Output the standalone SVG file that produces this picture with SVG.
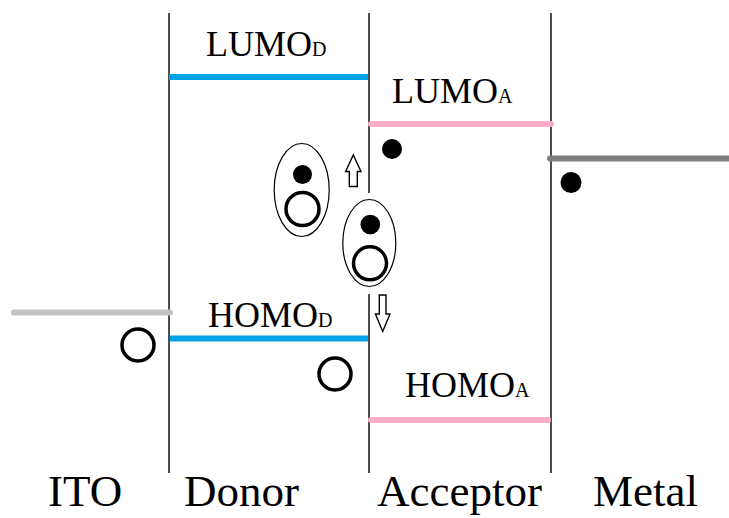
<svg xmlns="http://www.w3.org/2000/svg" width="729" height="518" viewBox="0 0 729 518">
  <style>
    .bg { fill: #ffffff; }
    .wall { stroke: #000000; stroke-width: 1.4; fill: none; }
    .level { fill: none; stroke-width: 6; }
    .blue { stroke: #00a2e8; }
    .pink { stroke: #ffaec9; stroke-linecap: round; }
    .ito { stroke: #c3c3c3; stroke-linecap: round; }
    .metal { stroke: #7f7f7f; stroke-linecap: round; }
    .lbl { font-family: "Liberation Serif", "Times New Roman", serif; font-size: 36px; fill: #000000; }
    .sub { font-size: 20px; }
    .layer { font-family: "Liberation Serif", "Times New Roman", serif; font-size: 45px; fill: #000000; }
    .hole { fill: #ffffff; stroke: #000000; stroke-width: 3.5; }
    .electron { fill: #000000; }
    .exciton { fill: none; stroke: #000000; stroke-width: 1.2; }
    .arrow { fill: #ffffff; stroke: #000000; stroke-width: 1.4; stroke-linejoin: miter; }
  </style>

  <rect class="bg" x="0" y="0" width="729" height="518"/>

  <!-- layer boundaries -->
  <g id="boundaries">
    <line class="wall" x1="169" y1="13" x2="169" y2="473"/>
    <line class="wall" x1="369" y1="13" x2="369" y2="193"/>
    <line class="wall" x1="369" y1="294" x2="369" y2="473"/>
    <line class="wall" x1="551" y1="13" x2="551" y2="473"/>
  </g>

  <!-- energy levels -->
  <g id="ito-level">
    <line class="level ito" x1="14" y1="312.5" x2="170" y2="312.5"/>
  </g>
  <g id="lumo-d">
    <line class="level blue" x1="169" y1="77" x2="368" y2="77"/>
    <text class="lbl" x="206" y="56">LUMO<tspan class="sub">D</tspan></text>
  </g>
  <g id="homo-d">
    <line class="level blue" x1="170" y1="338.5" x2="368" y2="338.5"/>
    <text class="lbl" x="208" y="327">HOMO<tspan class="sub">D</tspan></text>
  </g>
  <g id="lumo-a">
    <line class="level pink" x1="371" y1="124" x2="551" y2="124"/>
    <text class="lbl" x="392" y="103">LUMO<tspan class="sub">A</tspan></text>
  </g>
  <g id="homo-a">
    <line class="level pink" x1="371" y1="420" x2="548" y2="420"/>
    <text class="lbl" x="405" y="397">HOMO<tspan class="sub">A</tspan></text>
  </g>
  <g id="metal-level">
    <line class="level metal" x1="550" y1="158.5" x2="729" y2="158.5"/>
  </g>

  <!-- charge carriers -->
  <g id="carriers">
    <circle class="hole" cx="138" cy="345" r="16"/>
    <circle class="hole" cx="335" cy="374" r="16"/>
    <circle class="electron" cx="392" cy="149" r="10"/>
    <circle class="electron" cx="571" cy="182.5" r="10.5"/>
  </g>

  <!-- bound electron-hole pairs -->
  <g id="exciton-1">
    <ellipse class="exciton" cx="301.7" cy="190" rx="27.5" ry="46.5"/>
    <circle class="electron" cx="302.5" cy="174.5" r="9.5"/>
    <circle class="hole" cx="302.5" cy="209" r="16.5"/>
  </g>
  <g id="exciton-2">
    <ellipse class="exciton" cx="369.3" cy="243" rx="26.5" ry="43.5"/>
    <circle class="electron" cx="370.3" cy="224.5" r="9.8"/>
    <circle class="hole" cx="370" cy="263.3" r="16.5"/>
  </g>

  <!-- transfer arrows -->
  <g id="connectors">
    <polygon class="arrow" points="353.3,155 361,171.5 357.3,171.5 357.3,186.5 349.3,186.5 349.3,171.5 345.6,171.5"/>
    <polygon class="arrow" points="379.3,295 386,295 386,314 390,314 382.7,331.5 375.4,314 379.3,314"/>
  </g>

  <!-- layer names -->
  <g id="layer-names">
    <text class="layer" x="48" y="506">ITO</text>
    <text class="layer" x="184" y="506">Donor</text>
    <text class="layer" x="377" y="506">Acceptor</text>
    <text class="layer" x="593" y="506">Metal</text>
  </g>
</svg>
